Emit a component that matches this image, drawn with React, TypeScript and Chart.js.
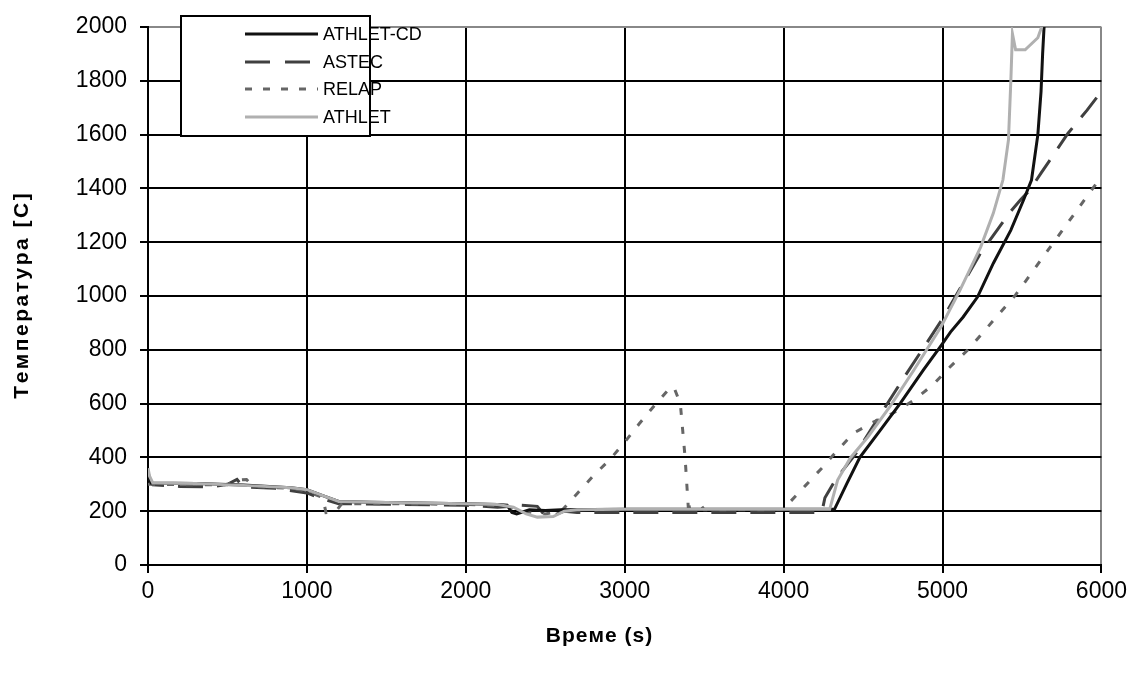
import React, { useEffect, useRef } from "react";
import { Chart, registerables } from "chart.js";

Chart.register(...registerables);

// ---- Data ----
const seriesNames = ["ATHLET-CD", "ASTEC", "RELAP", "ATHLET"];
const xTitle = "Време (s)";
const yTitle = "Температура [C]";

const athletCdTime = [0, 20, 300, 600, 900, 1000, 1100, 1200, 1400, 1800, 2000, 2200, 2260, 2290, 2320, 2400, 2500, 2600, 3000, 4000, 4320, 4400, 4480, 4610, 4735, 4880, 4990, 5050, 5130, 5220, 5320, 5430, 5510, 5560, 5600, 5620, 5630, 5640];
const athletCdTemp = [330, 305, 303, 297, 287, 280, 258, 236, 233, 230, 228, 225, 222, 195, 190, 205, 203, 205, 207, 207, 207, 305, 400, 502, 602, 725, 815, 866, 922, 996, 1122, 1245, 1357, 1431, 1600, 1760, 1900, 2010];

const astecTime = [0, 15, 30, 200, 400, 500, 560, 600, 800, 1000, 1100, 1200, 1500, 1800, 2000, 2200, 2280, 2350, 2450, 2500, 2560, 2620, 2700, 3000, 4000, 4240, 4260, 4330, 4450, 4610, 4750, 5000, 5240, 5330, 5420, 5490, 5550, 5620, 5710, 5790, 5910, 6000];
const astecTemp = [345, 310, 298, 292, 290, 300, 318, 290, 285, 268, 245, 228, 226, 224, 222, 215, 218, 222, 218, 182, 186, 200, 195, 195, 195, 195, 250, 320, 410, 560, 690, 915, 1160, 1234, 1308, 1357, 1394, 1457, 1535, 1605, 1691, 1760];

const relapTime = [0, 20, 300, 500, 560, 620, 660, 900, 1000, 1100, 1120, 1180, 1220, 1500, 2000, 2250, 2350, 2500, 2600, 2700, 2800, 2910, 3000, 3090, 3190, 3290, 3310, 3350, 3380, 3400, 3480, 3500, 4000, 4040, 4140, 4240, 4340, 4440, 4560, 4690, 4820, 4940, 5040, 5160, 5460, 5710, 5975, 6000];
const relapTemp = [300, 300, 298, 298, 315, 318, 292, 285, 275, 250, 195, 198, 228, 228, 225, 220, 200, 190, 200, 265, 330, 394, 457, 524, 595, 662, 660, 600, 400, 215, 222, 205, 205, 234, 297, 360, 427, 490, 530, 565, 613, 670, 732, 800, 1004, 1208, 1424, 1445];

const athletTime = [0, 10, 30, 300, 600, 900, 1000, 1100, 1200, 1400, 1800, 2000, 2200, 2300, 2380, 2450, 2550, 2620, 2700, 3000, 4000, 4290, 4340, 4420, 4530, 4670, 4820, 4990, 5110, 5240, 5320, 5380, 5415, 5430, 5440, 5460, 5520, 5600, 5630];
const athletTemp = [360, 330, 305, 303, 296, 287, 280, 258, 236, 233, 230, 228, 225, 215, 190, 178, 180, 200, 205, 207, 207, 207, 316, 398, 476, 590, 725, 885, 1022, 1182, 1308, 1431, 1580, 1800, 1975, 1915, 1915, 1960, 2010];

const xTicks = [0, 1000, 2000, 3000, 4000, 5000, 6000];
const yTicks = [0, 200, 400, 600, 800, 1000, 1200, 1400, 1600, 1800, 2000];

const toPoints = (xs: number[], ys: number[]) => xs.map((x, i) => ({ x, y: ys[i] }));

const FONT = "Arial, 'Liberation Sans', sans-serif";

const styles = [
  { color: "#111111", width: 3, dash: [] as number[] },
  { color: "#404040", width: 3, dash: [25, 14] },
  { color: "#666666", width: 3, dash: [7, 12] },
  { color: "#b0b0b0", width: 3, dash: [] as number[] },
];

const drawSpaced = (ctx: any, text: string, cx: number, cy: number, spacing: number) => {
  const chars = Array.from(text);
  const widths = chars.map((c) => ctx.measureText(c).width);
  const total = widths.reduce((a, b) => a + b, 0) + spacing * (chars.length - 1);
  let x = cx - total / 2;
  ctx.textAlign = "left";
  ctx.textBaseline = "middle";
  chars.forEach((c, i) => {
    ctx.fillText(c, x, cy);
    x += widths[i] + spacing;
  });
};

const overlayPlugin = {
  id: "overlay",
  afterDraw(chart: any) {
    const ctx = chart.ctx;
    ctx.save();
    // legend box
    const left = 181, top = 16, right = 370, bottom = 136;
    ctx.fillStyle = "#ffffff";
    ctx.fillRect(left, top, right - left, bottom - top);
    ctx.strokeStyle = "#000000";
    ctx.lineWidth = 2;
    ctx.strokeRect(left, top, right - left, bottom - top);
    const rows = [34, 62, 89, 117];
    ctx.font = `18px ${FONT}`;
    ctx.textBaseline = "middle";
    ctx.textAlign = "left";
    seriesNames.forEach((name, i) => {
      const s = styles[i];
      ctx.strokeStyle = s.color;
      ctx.lineWidth = s.width;
      ctx.setLineDash(i === 1 ? [25, 15] : i === 2 ? [7, 11] : []);
      ctx.beginPath();
      ctx.moveTo(245, rows[i]);
      ctx.lineTo(318, rows[i]);
      ctx.stroke();
      ctx.setLineDash([]);
      ctx.fillStyle = "#000000";
      ctx.fillText(name, 323, rows[i] + 1);
    });
    // axis titles
    ctx.fillStyle = "#000000";
    ctx.font = `bold 21px ${FONT}`;
    const area = chart.chartArea;
    drawSpaced(ctx, xTitle, 599, 636, 1);
    ctx.save();
    ctx.translate(22, (area.top + area.bottom) / 2);
    ctx.rotate(-Math.PI / 2);
    drawSpaced(ctx, yTitle, 0, 0, 2.5);
    ctx.restore();
    ctx.restore();
  },
};

export default function App() {
  const canvasRef = useRef<HTMLCanvasElement | null>(null);

  useEffect(() => {
    document.body.style.margin = "0";
    const canvas = canvasRef.current;
    if (!canvas) return;
    const data = [
      toPoints(athletCdTime, athletCdTemp),
      toPoints(astecTime, astecTemp),
      toPoints(relapTime, relapTemp),
      toPoints(athletTime, athletTemp),
    ];
    const orders = [1, 3, 2, 0];
    const chart = new Chart(canvas, {
      type: "line",
      data: {
        datasets: seriesNames.map((name, i) => ({
          label: name,
          data: data[i],
          borderColor: styles[i].color,
          backgroundColor: styles[i].color,
          borderWidth: styles[i].width,
          borderDash: styles[i].dash,
          pointRadius: 0,
          tension: 0,
          fill: false,
          order: orders[i],
        })),
      },
      options: {
        animation: false,
        responsive: false,
        maintainAspectRatio: false,
        layout: { padding: { top: 27, right: 30, left: 0, bottom: 0 } },
        plugins: {
          legend: { display: false },
          tooltip: { enabled: false },
        },
        scales: {
          x: {
            type: "linear",
            min: 0,
            max: 6000,
            afterBuildTicks: (scale: any) => {
              scale.ticks = xTicks.map((v) => ({ value: v }));
            },
            afterFit: (scale: any) => {
              scale.height = 673 - 565;
            },
            ticks: {
              color: "#000",
              font: { family: FONT, size: 23 },
              padding: 5,
              maxRotation: 0,
              callback: (v: any) => String(v),
            },
            grid: {
              color: (c: any) => (c.tick && c.tick.value === 6000 ? "#888888" : "#000000"),
              lineWidth: 2,
              tickLength: 8,
              tickColor: "#000000",
            },
            border: { color: "#000000", width: 2 },
          },
          y: {
            type: "linear",
            min: 0,
            max: 2000,
            afterBuildTicks: (scale: any) => {
              scale.ticks = yTicks.map((v) => ({ value: v }));
            },
            afterFit: (scale: any) => {
              scale.width = 148;
            },
            ticks: {
              color: "#000",
              font: { family: FONT, size: 23 },
              padding: 13,
              callback: (v: any) => String(v),
            },
            grid: {
              color: (c: any) => (c.tick && c.tick.value === 2000 ? "#888888" : "#000000"),
              lineWidth: 2,
              tickLength: 8,
              tickColor: "#000000",
            },
            border: { color: "#000000", width: 2 },
          },
        },
      },
      plugins: [overlayPlugin],
    });
    return () => chart.destroy();
  }, []);

  return (
    <div style={{ width: 1132, height: 673, background: "#fff" }}>
      <canvas ref={canvasRef} width={1132} height={673} style={{ display: "block" }} />
    </div>
  );
}
